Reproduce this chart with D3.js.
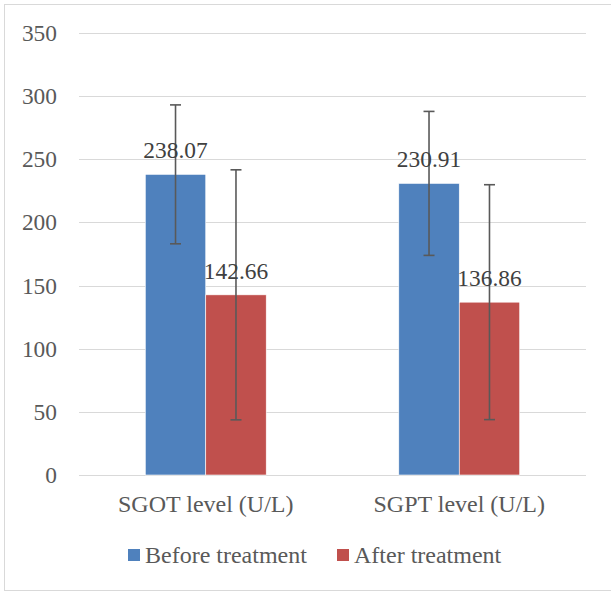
<!DOCTYPE html>
<html>
<head>
<meta charset="utf-8">
<script src="https://cdn.jsdelivr.net/npm/d3@7"></script>
<style>
  html, body { margin: 0; padding: 0; background: #fff; }
</style>
</head>
<body>
<div id="chart"></div>
<script>
const categories = ['SGOT level (U/L)', 'SGPT level (U/L)'];
const seriesNames = ['Before treatment', 'After treatment'];
const beforeValues = [238.07, 230.91];
const afterValues = [142.66, 136.86];
const beforeErrors = [55, 57];
const afterErrors = [99, 93];
const yTicks = [0, 50, 100, 150, 200, 250, 300, 350];
const colors = ['#4F81BD', '#C0504D'];

const FONT = '"Liberation Serif", "DejaVu Serif", serif';
const W = 611, H = 592;
const svg = d3.select('#chart').append('svg').attr('width', W).attr('height', H)
  .style('font-family', FONT);

// outer frame
svg.append('rect').attr('x', 4.5).attr('y', 4.5).attr('width', 612).attr('height', 586)
  .attr('fill', '#fff').attr('stroke', '#d9d9d9').attr('stroke-width', 1);

const plotLeft = 79, plotRight = 586, plotTop = 33, plotBottom = 475;
const y = d3.scaleLinear().domain([0, 350]).range([plotBottom, plotTop]);
const x0 = d3.scaleBand().domain(categories).range([plotLeft, plotRight]).paddingInner(0.523).paddingOuter(0.2615);
const x1 = d3.scaleBand().domain(seriesNames).range([0, x0.bandwidth()]);

// gridlines
svg.append('g').selectAll('line').data(yTicks).enter().append('line')
  .attr('x1', plotLeft).attr('x2', plotRight)
  .attr('y1', d => Math.round(y(d)) + 0.5).attr('y2', d => Math.round(y(d)) + 0.5)
  .attr('stroke', '#d9d9d9').attr('stroke-width', 1.2);

// y tick labels
svg.append('g').selectAll('text').data(yTicks).enter().append('text')
  .attr('x', 57).attr('y', d => y(d) + 8)
  .attr('text-anchor', 'end').attr('font-family', FONT).attr('font-size', '23.4px').attr('fill', '#595959')
  .text(d => d);

const series = [
  { name: seriesNames[0], values: beforeValues, errors: beforeErrors, color: colors[0] },
  { name: seriesNames[1], values: afterValues, errors: afterErrors, color: colors[1] }
];

series.forEach(s => {
  const g = svg.append('g');
  const cx = i => x0(categories[i]) + x1(s.name) + x1.bandwidth() / 2;

  g.selectAll('rect').data(s.values).enter().append('rect')
    .attr('x', (_, i) => x0(categories[i]) + x1(s.name))
    .attr('width', x1.bandwidth())
    .attr('y', d => y(d)).attr('height', d => plotBottom - y(d))
    .attr('fill', s.color).attr('stroke', '#fff').attr('stroke-width', 0.6);

  // error bars
  s.values.forEach((v, i) => {
    const e = s.errors[i];
    const eg = g.append('g').attr('stroke', '#595959').attr('stroke-width', 1.6);
    eg.append('line').attr('x1', cx(i)).attr('x2', cx(i)).attr('y1', y(v + e)).attr('y2', y(v - e));
    eg.append('line').attr('x1', cx(i) - 5.5).attr('x2', cx(i) + 5.5).attr('y1', y(v + e)).attr('y2', y(v + e));
    eg.append('line').attr('x1', cx(i) - 5.5).attr('x2', cx(i) + 5.5).attr('y1', y(v - e)).attr('y2', y(v - e));
  });

  // data labels
  g.selectAll('text.val').data(s.values).enter().append('text')
    .attr('class', 'val')
    .attr('x', (_, i) => cx(i)).attr('y', d => y(d) - 16)
    .attr('text-anchor', 'middle').attr('font-family', FONT).attr('font-size', '23.4px').attr('fill', '#404040')
    .text(d => d.toFixed(2));
});

// category labels
svg.append('g').selectAll('text').data(categories).enter().append('text')
  .attr('x', d => x0(d) + x0.bandwidth() / 2).attr('y', 512)
  .attr('text-anchor', 'middle').attr('font-family', FONT).attr('font-size', '24px').attr('fill', '#595959')
  .text(d => d);

// legend
const legendX = [128, 337];
const lg = svg.append('g');
seriesNames.forEach((name, i) => {
  lg.append('rect').attr('x', legendX[i]).attr('y', 549).attr('width', 12).attr('height', 12).attr('fill', colors[i]);
  lg.append('text').attr('x', legendX[i] + 17).attr('y', 562.5)
    .attr('font-family', FONT).attr('font-size', '24px').attr('fill', '#595959').text(name);
});
</script>
</body>
</html>
